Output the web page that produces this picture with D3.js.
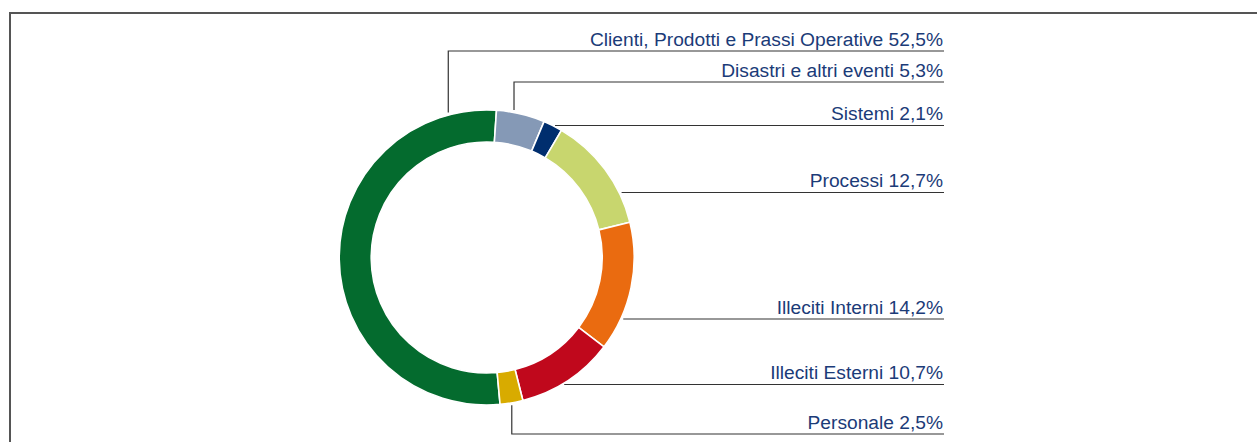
<!DOCTYPE html>
<html>
<head>
<meta charset="utf-8">
<script src="https://cdn.jsdelivr.net/npm/d3@7"></script>
<style>
  html, body { margin: 0; padding: 0; background: #fff; }
  svg { display: block; }
</style>
</head>
<body>
<svg id="chart" width="1258" height="442"></svg>
<script>
// ---- data ----
const categories = [
  "Clienti, Prodotti e Prassi Operative",
  "Disastri e altri eventi",
  "Sistemi",
  "Processi",
  "Illeciti Interni",
  "Illeciti Esterni",
  "Personale"
];
const values = [52.5, 5.3, 2.1, 12.7, 14.2, 10.7, 2.5];
const valueLabels = ["52,5%", "5,3%", "2,1%", "12,7%", "14,2%", "10,7%", "2,5%"];
const colors = ["#046b2e", "#8599b6", "#002e6e", "#c8d66e", "#ea6b10", "#c0081c", "#d8ab00"];

// ---- layout (not data) ----
const W = 1258, H = 442;
const cx = 486.7, cy = 257.5, R = 147.5, r0 = 115.5;
const firstBoundaryDeg = 3.8; // clockwise angle of the boundary after the first slice
const labelRight = 943;
const lineEnd = 944;
// label line rows and leader style
const labelLineY = [51, 82, 125.5, 192.5, 319, 384.5, 434];
const leaderMode = ["elbow", "elbow", "h", "h", "h", "h", "elbow"];
const leaderFrac = [0.90, 0.36, 0.5, 0.5, 0.5, 0.5, 0.49];

const svg = d3.select("#chart");

// frame
svg.append("path")
  .attr("d", `M10,${H} L10,13 L1257,13`)
  .attr("fill", "none")
  .attr("stroke", "#555")
  .attr("stroke-width", 2);

const total = d3.sum(values);
const firstSpan = values[0] / total * 2 * Math.PI;
const start = firstBoundaryDeg * Math.PI / 180 - firstSpan;

const pie = d3.pie().sort(null).value(d => d)
  .startAngle(start).endAngle(start + 2 * Math.PI);
const arcs = pie(values);
const arc = d3.arc().innerRadius(r0).outerRadius(R);

const g = svg.append("g").attr("transform", `translate(${cx},${cy})`);
g.selectAll("path.slice").data(arcs).join("path")
  .attr("class", "slice")
  .attr("d", arc)
  .attr("fill", (d, i) => colors[i])
  .attr("stroke", "#fff")
  .attr("stroke-width", 1.6);

// leaders and labels
const gap = 2.5;
const lines = svg.append("g");
arcs.forEach((a, i) => {
  const y = labelLineY[i];
  let d;
  if (leaderMode[i] === "h") {
    const dy = y - cy;
    const x0 = cx + Math.sqrt(Math.max(0, R * R - dy * dy)) + gap;
    d = `M${x0},${y} L${lineEnd},${y}`;
  } else {
    const ang = a.startAngle + leaderFrac[i] * (a.endAngle - a.startAngle);
    const ax = cx + R * Math.sin(ang);
    const ay = cy - R * Math.cos(ang);
    const ay2 = ay < y ? ay + gap : ay - gap;
    d = `M${ax},${ay2} L${ax},${y} L${lineEnd},${y}`;
  }
  lines.append("path")
    .attr("d", d)
    .attr("fill", "none")
    .attr("stroke", "#333")
    .attr("stroke-width", 1.2);

  svg.append("text")
    .attr("x", labelRight)
    .attr("y", y - 5.5)
    .attr("text-anchor", "end")
    .attr("font-family", "Liberation Sans, Arial, sans-serif")
    .attr("font-size", 19.2)
    .attr("fill", "#1b3b78")
    .text(categories[i] + " " + valueLabels[i]);
});
</script>
</body>
</html>
